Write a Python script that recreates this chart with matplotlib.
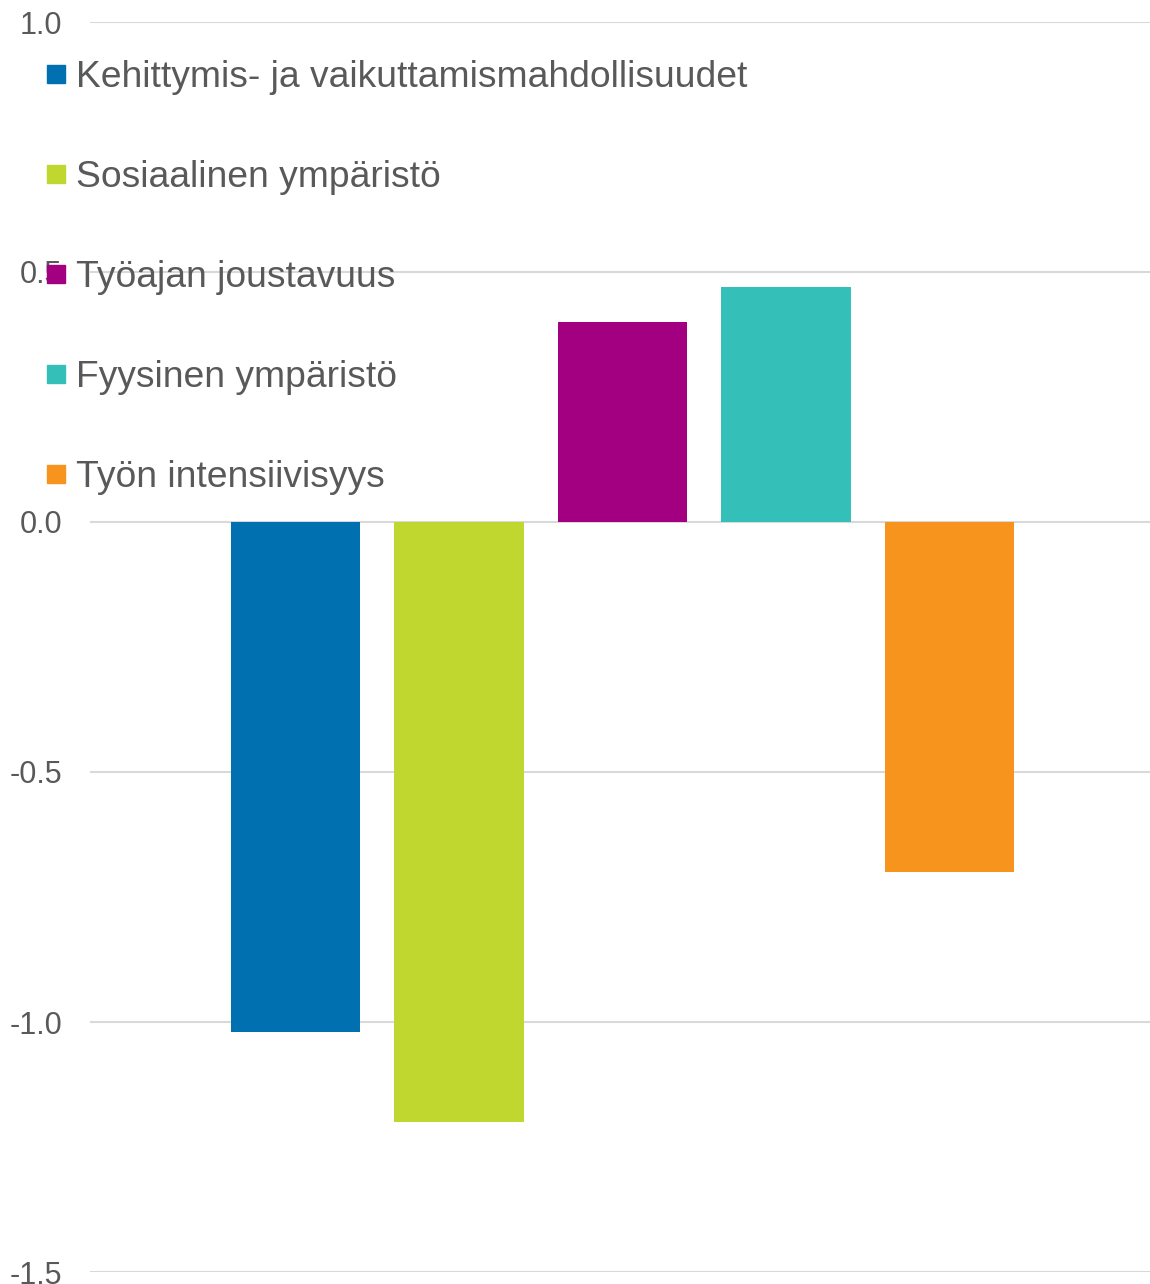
import matplotlib
matplotlib.use("Agg")
import matplotlib.pyplot as plt
from matplotlib.lines import Line2D

series = ["Kehittymis- ja vaikuttamismahdollisuudet", "Sosiaalinen ympäristö",
          "Työajan joustavuus", "Fyysinen ympäristö", "Työn intensiivisyys"]
values = [-1.02, -1.2, 0.40, 0.47, -0.70]
colors = ["#0070B0", "#C0D72F", "#A20080", "#34C0B8", "#F7941E"]
yticks = [-1.5, -1.0, -0.5, 0.0, 0.5, 1.0]
ytick_labels = ["-1.5", "-1.0", "-0.5", "0.0", "0.5", "1.0"]

plt.rcParams['font.family'] = ['Liberation Sans', 'DejaVu Sans']
W, H = 1150, 1284
fig = plt.figure(figsize=(W/100, H/100), dpi=100)
ax = fig.add_axes([90/W, 1 - 1272/H, (1150-90)/W, (1272-22)/H])

for i, (v, c) in enumerate(zip(values, colors)):
    ax.bar(i, v, width=0.79, color=c, zorder=2)

ax.set_xlim(-1.257, 5.226)
ax.set_ylim(-1.5, 1.0)
ax.set_yticks(yticks)
ax.set_yticklabels(ytick_labels)
ax.set_xticks([])
ax.grid(axis='y', color='#D9D9D9', linewidth=1.5, zorder=0)
ax.set_axisbelow(True)
for s in ax.spines.values():
    s.set_visible(False)
ax.tick_params(axis='y', length=0, pad=20, labelsize=22, labelcolor='#595959')

handles = [Line2D([], [], marker='s', linestyle='none', markersize=13,
                  markerfacecolor=c, markeredgecolor=c) for c in colors]
leg = ax.legend(handles, series, loc='upper left', bbox_to_anchor=(46/W, 1 - 60/H),
                bbox_transform=fig.transFigure, frameon=False, fontsize=26.8,
                labelspacing=1.745, handlelength=0.55, handletextpad=0.25,
                labelcolor='#595959', borderpad=0, borderaxespad=0)
leg.set_zorder(5)

fig.savefig("out.png", dpi=100)
